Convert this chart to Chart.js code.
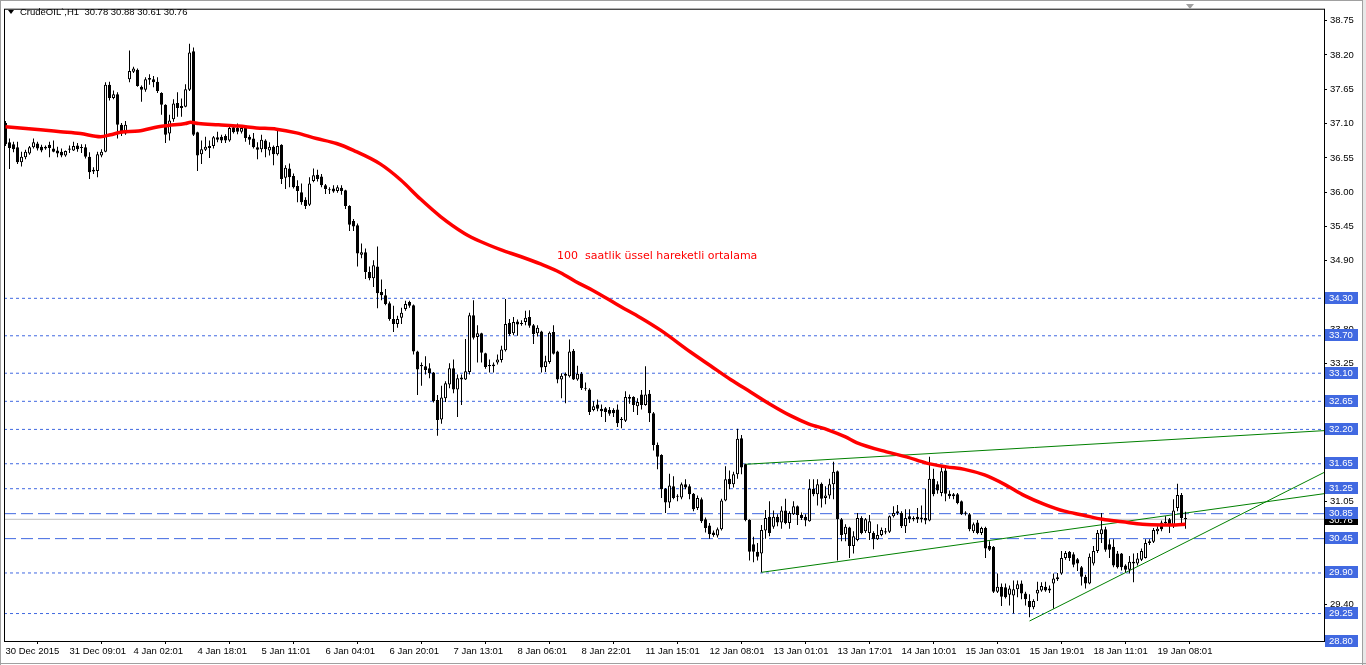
<!DOCTYPE html>
<html><head><meta charset="utf-8">
<script src="https://cdn.jsdelivr.net/npm/chart.js@4.4.1/dist/chart.umd.min.js"></script>
<style>html,body{margin:0;padding:0;background:#fff;overflow:hidden}canvas{display:block}</style>
</head><body>
<canvas id="c" width="1366" height="665"></canvas>
<script>
const symbolText = "CrudeOIL`,H1";
const opens = [
37.11,36.80,36.77,36.72,36.48,36.56,36.62,36.72,36.78,36.73,
36.73,36.76,36.70,36.67,36.65,36.59,36.68,36.67,36.75,36.72,
36.72,36.57,36.33,36.34,36.59,36.65,37.72,37.51,37.57,37.08,
36.94,37.81,37.93,37.96,37.69,37.64,37.83,37.81,37.77,37.59,
37.40,36.94,37.17,37.43,37.38,37.37,37.64,38.26,36.96,36.61,
36.68,36.71,36.74,36.88,36.89,36.90,36.83,37.04,37.03,36.97,
37.03,36.89,36.86,36.72,36.69,36.83,36.67,36.73,36.61,36.76,
36.23,36.38,36.26,36.10,36.00,35.88,35.80,36.18,36.28,36.25,
36.11,36.04,36.06,36.02,36.07,36.03,35.78,35.54,35.47,35.00,
35.04,34.72,34.62,34.81,34.40,34.35,34.22,33.97,33.89,33.99,
34.13,34.24,34.19,33.45,33.23,33.21,33.18,33.11,32.67,32.36,
32.70,32.92,33.18,32.84,33.00,33.00,33.12,34.03,33.68,33.74,
33.42,33.23,33.21,33.27,33.31,33.47,33.91,33.74,33.93,33.89,
33.92,34.00,33.87,33.74,33.77,33.20,33.28,33.76,33.45,33.00,
33.09,33.05,33.46,33.00,33.09,32.86,32.84,32.51,32.60,32.53,
32.54,32.51,32.51,32.52,32.37,32.34,32.72,32.72,32.57,32.76,
32.59,32.77,32.46,31.95,31.79,31.25,31.03,31.29,31.13,31.11,
31.32,31.29,31.17,30.94,31.08,30.76,30.66,30.55,30.50,30.60,
31.06,31.41,31.32,31.48,32.06,31.64,30.75,30.36,30.24,30.21,
30.58,30.80,30.64,30.80,30.71,30.90,30.70,30.84,30.97,30.83,
30.80,30.73,31.25,31.16,31.33,31.10,31.14,31.32,31.53,30.76,
30.52,30.63,30.33,30.43,30.78,30.57,30.54,30.54,30.44,30.51,
30.55,30.56,30.81,30.86,30.86,30.65,30.81,30.76,30.80,30.79,
30.78,30.74,31.41,31.32,31.18,31.54,31.17,31.13,31.16,31.05,
30.85,30.84,30.57,30.71,30.54,30.62,30.33,30.32,29.60,29.68,
29.67,29.55,29.54,29.64,29.73,29.57,29.45,29.35,29.57,29.62,
29.68,29.62,29.73,29.80,29.89,30.14,30.24,30.20,30.12,29.99,
29.84,29.73,30.05,30.25,30.52,30.60,30.36,30.32,30.21,30.21,
30.02,29.95,30.05,30.05,30.11,30.14,30.38,30.40,30.57,30.71,
30.70,30.76,30.65,30.94,31.15,30.78];
const highs = [
37.14,36.86,36.81,36.81,36.65,36.68,36.74,36.86,36.81,36.76,
36.75,36.81,36.83,36.73,36.70,36.67,36.75,36.81,36.79,36.77,
36.77,36.64,36.40,36.65,36.69,37.76,37.77,37.63,37.60,37.11,
37.14,38.27,38.01,37.98,37.71,37.84,37.89,37.86,37.84,37.60,
37.41,37.24,37.49,37.60,37.50,37.73,38.38,38.32,36.97,36.83,
36.89,36.83,36.90,36.97,36.92,36.93,37.07,37.07,37.10,37.06,
37.05,36.92,36.95,36.80,36.92,36.85,36.80,36.75,37.01,36.77,
36.43,36.46,36.30,36.19,36.14,35.92,36.24,36.38,36.36,36.29,
36.13,36.08,36.11,36.11,36.11,36.04,35.79,35.57,35.50,35.18,
35.10,34.81,34.91,35.13,34.60,34.45,34.25,34.18,34.02,34.15,
34.26,34.26,34.20,33.46,33.27,33.37,33.26,33.12,32.75,32.90,
32.97,33.26,33.32,33.08,33.08,33.65,34.07,34.27,33.87,33.75,
33.43,33.32,33.27,33.40,33.54,34.29,33.97,34.00,33.96,33.95,
34.10,34.11,33.89,33.87,33.78,33.38,33.77,33.87,33.46,33.10,
33.11,33.64,33.49,33.22,33.12,32.95,32.86,32.65,32.68,32.60,
32.56,32.56,32.54,32.60,32.40,32.81,32.76,32.73,32.70,32.83,
33.21,32.83,32.48,31.99,31.80,31.26,31.49,31.45,31.16,31.35,
31.40,31.32,31.18,31.14,31.11,30.79,30.70,30.58,30.63,31.09,
31.61,31.54,31.52,32.21,32.11,31.65,30.76,30.48,30.38,30.67,
30.91,31.05,30.90,30.84,30.97,31.09,30.89,31.05,30.98,30.87,
30.84,31.40,31.40,31.40,31.35,31.29,31.41,31.68,31.54,30.78,
30.68,30.64,30.57,30.86,30.81,30.78,30.83,30.57,30.68,30.63,
30.62,30.82,30.97,30.99,30.89,30.92,30.92,30.81,30.94,30.98,
31.25,31.76,31.57,31.37,31.60,31.62,31.22,31.18,31.18,31.06,
30.89,30.86,30.71,30.75,30.64,30.64,30.41,30.33,29.89,29.73,
29.73,29.70,29.78,29.78,29.78,29.60,29.56,29.48,29.76,29.75,
29.76,29.70,29.89,29.90,30.25,30.25,30.25,30.23,30.14,30.01,
29.87,30.21,30.33,30.59,30.86,30.64,30.44,30.44,30.25,30.22,
30.04,30.17,30.21,30.22,30.29,30.44,30.44,30.62,30.65,30.74,
30.81,30.78,31.08,31.33,31.18,30.88];
const lows = [
36.74,36.37,36.64,36.45,36.41,36.53,36.60,36.70,36.67,36.64,
36.68,36.56,36.64,36.56,36.56,36.57,36.63,36.66,36.65,36.63,
36.54,36.21,36.29,36.24,36.56,36.64,37.47,37.49,36.86,36.90,
36.92,37.76,37.91,37.69,37.45,37.61,37.72,37.68,37.59,37.24,
36.79,36.83,37.13,37.21,37.21,37.36,37.62,36.90,36.34,36.45,
36.66,36.55,36.70,36.80,36.79,36.79,36.81,36.94,36.93,36.94,
36.81,36.76,36.70,36.53,36.64,36.56,36.59,36.43,36.59,36.13,
36.05,36.08,36.06,35.84,35.80,35.73,35.78,36.16,36.17,36.08,
35.97,35.97,35.99,35.99,35.96,35.73,35.38,35.38,34.81,34.94,
34.61,34.59,34.48,34.14,34.27,34.19,33.94,33.76,33.83,33.89,
34.10,34.15,33.40,32.75,32.90,33.08,33.02,32.63,32.10,32.29,
32.64,32.86,32.78,32.40,32.59,32.99,33.08,33.64,33.27,33.27,
33.17,33.11,33.11,33.24,33.27,33.45,33.70,33.71,33.70,33.86,
33.87,33.83,33.57,33.69,33.11,33.12,33.25,33.40,32.94,32.70,
32.62,33.03,32.99,32.98,32.83,32.82,32.43,32.49,32.49,32.40,
32.32,32.42,32.40,32.24,32.22,32.32,32.61,32.48,32.43,32.52,
32.58,32.32,31.86,31.56,31.10,30.86,30.94,31.08,31.05,31.08,
31.24,31.08,30.89,30.91,30.70,30.55,30.45,30.48,30.47,30.58,
31.05,31.24,31.27,31.41,31.48,30.73,30.10,30.07,30.10,29.91,
30.45,30.49,30.61,30.65,30.61,30.68,30.61,30.83,30.67,30.75,
30.65,30.72,31.13,30.98,30.95,31.00,31.09,31.08,30.10,30.41,
30.41,30.14,30.21,30.41,30.52,30.54,30.43,30.28,30.43,30.49,
30.52,30.54,30.79,30.83,30.62,30.54,30.70,30.73,30.70,30.71,
30.68,30.73,31.13,31.17,31.13,31.05,31.09,31.08,31.00,30.83,
30.82,30.57,30.54,30.52,30.51,30.14,30.25,29.58,29.58,29.37,
29.49,29.38,29.25,29.51,29.48,29.38,29.19,29.32,29.45,29.60,
29.60,29.58,29.33,29.77,29.87,30.11,30.09,29.99,29.93,29.70,
29.65,29.72,30.02,30.22,30.38,30.24,30.14,29.99,29.97,29.94,
29.91,29.89,29.75,30.02,30.09,30.13,30.35,30.38,30.52,30.57,
30.67,30.54,30.62,30.89,30.68,30.61];
const closes = [
36.77,36.71,36.69,36.48,36.57,36.65,36.72,36.80,36.70,36.67,
36.70,36.71,36.65,36.62,36.59,36.66,36.70,36.74,36.69,36.71,
36.57,36.32,36.36,36.61,36.65,37.72,37.51,37.57,37.08,36.94,
37.08,37.94,37.98,37.70,37.64,37.81,37.80,37.76,37.62,37.40,
36.92,37.15,37.42,37.35,37.35,37.65,38.24,36.92,36.59,36.69,
36.73,36.74,36.88,36.84,36.83,36.83,37.03,36.96,36.97,37.03,
36.87,36.84,36.72,36.68,36.84,36.69,36.73,36.61,36.74,36.21,
36.39,36.24,36.08,36.02,35.84,35.78,36.14,36.27,36.21,36.11,
36.05,36.03,36.01,36.08,36.02,35.78,35.48,35.45,35.02,35.04,
34.72,34.62,34.83,34.38,34.35,34.21,33.97,33.89,33.97,34.07,
34.21,34.18,33.45,33.16,33.21,33.15,33.10,32.65,32.35,32.71,
32.94,33.18,32.84,33.02,33.03,33.13,34.03,33.67,33.74,33.43,
33.20,33.21,33.24,33.32,33.48,33.89,33.73,33.92,33.88,33.90,
33.99,33.86,33.73,33.83,33.19,33.29,33.75,33.41,33.00,33.06,
33.06,33.45,33.00,33.09,32.86,32.85,32.48,32.57,32.53,32.49,
32.48,32.45,32.46,32.30,32.35,32.72,32.69,32.59,32.64,32.59,
32.76,32.46,31.95,31.76,31.24,31.03,31.30,31.10,31.12,31.32,
31.27,31.16,30.92,31.10,30.73,30.62,30.52,30.51,30.60,31.06,
31.40,31.32,31.48,32.05,31.59,30.75,30.24,30.24,30.16,30.59,
30.78,30.54,30.80,30.71,30.90,30.70,30.86,30.97,30.83,30.78,
30.74,31.25,31.16,31.32,31.09,31.14,31.32,31.52,30.76,30.51,
30.64,30.33,30.49,30.78,30.54,30.76,30.73,30.44,30.51,30.59,
30.57,30.81,30.86,30.89,30.65,30.78,30.76,30.78,30.76,30.76,
30.74,31.41,31.16,31.22,31.53,31.17,31.13,31.16,31.02,30.84,
30.87,30.60,30.68,30.54,30.62,30.29,30.27,29.60,29.68,29.52,
29.51,29.65,29.64,29.72,29.57,29.48,29.35,29.45,29.63,29.69,
29.62,29.65,29.81,29.83,30.14,30.22,30.14,30.03,30.05,29.84,
29.73,30.16,30.25,30.54,30.60,30.27,30.27,30.02,29.99,29.99,
29.95,30.08,30.08,30.13,30.25,30.38,30.41,30.59,30.61,30.60,
30.72,30.65,30.90,31.15,30.78,30.76];

// 100-period EMA (bar position, price)
const emaBars = [0,8.75,13.75,18.75,23.75,26.25,28.75,33.25,38.25,40.75,45,46.25,48.25,53.25,58.25,62.75,67.75,72.75,77.75,82.75,87,93.75,98.75,103.75,108.75,114.75,118.75,123.75,128.75,133.75,138.75,142.5,146.75,153.75,158.75,163.75,171.25,176.25,181.25,186.25,191.25,196.25,200.75,205.75,210,212.75,220.25,225.25,230.25,235.25,239.75,244.75,249.75,254.75,259.75,264.75,269.25,274.25,279.25,284.25,289.25,292.5,295];
const emaValues = [37.05,37.00,36.97,36.94,36.89,36.92,36.96,36.98,37.05,37.07,37.10,37.12,37.10,37.08,37.06,37.03,37.01,36.95,36.86,36.78,36.67,36.45,36.20,35.89,35.61,35.34,35.21,35.08,34.97,34.85,34.71,34.57,34.43,34.17,33.99,33.79,33.44,33.22,33.00,32.80,32.60,32.42,32.29,32.19,32.08,31.99,31.84,31.76,31.66,31.60,31.56,31.47,31.32,31.14,31.00,30.89,30.83,30.76,30.72,30.68,30.67,30.67,30.68];

const xTickLabels = ['30 Dec 2015','31 Dec 09:01','4 Jan 02:01','4 Jan 18:01','5 Jan 11:01','6 Jan 04:01','6 Jan 20:01','7 Jan 13:01','8 Jan 06:01','8 Jan 22:01','11 Jan 15:01','12 Jan 08:01','13 Jan 01:01','13 Jan 17:01','14 Jan 10:01','15 Jan 03:01','15 Jan 19:01','18 Jan 11:01','19 Jan 08:01'];
const xTickStep = 16;
const yTickValues = [38.75,38.20,37.65,37.10,36.55,36.00,35.45,34.90,34.35,33.80,33.25,32.70,32.15,31.60,31.05,30.50,29.95,29.40];

const levelPrices = [34.30,33.70,33.10,32.65,32.20,31.65,31.25,30.85,30.45,29.90,29.25,28.80];
const levelKinds = ['dot','dot','dot','dot','dot','dot','dot','dashdot','dashdot','dot','dot','dot'];

const trendX0 = [184.75, 189, 256];
const trendY0 = [31.64, 29.91, 29.13];
const trendX1 = [329.625, 329.625, 329.625];
const trendY1 = [32.18, 31.17, 31.51];

const annotationText = '100  saatlik üssel hareketli ortalama';

const currentPrice = closes[closes.length - 1];
const X_MIN = -0.375, X_MAX = 329.625;
const BLUE = 'rgb(65,105,225)';
const FONT = '"Liberation Sans", Arial, sans-serif';

const datasets = [];
datasets.push({
  type: 'line', label: 'EMA100',
  data: emaBars.map((b, k) => ({ x: b, y: emaValues[k] })),
  borderColor: '#ff0000', borderWidth: 3.5, pointRadius: 0, cubicInterpolationMode: 'monotone', order: 0
});
datasets.push({
  type: 'bar', label: 'body',
  data: opens.map((o, i) => ({ x: i, y: [o, closes[i]] })),
  backgroundColor: c => (closes[c.dataIndex] >= opens[c.dataIndex] ? '#ffffff' : '#000000'),
  borderColor: '#000', borderWidth: 1, borderSkipped: false, barThickness: 3,
  grouped: false, minBarLength: 1, inflateAmount: 0, order: 1
});
datasets.push({
  type: 'bar', label: 'wick',
  data: lows.map((l, i) => ({ x: i, y: [l, highs[i]] })),
  backgroundColor: '#000', borderWidth: 0, barThickness: 1,
  grouped: false, inflateAmount: 0, order: 2
});
trendX0.forEach((x0, k) => datasets.push({
  type: 'line', label: 'trend' + k,
  data: [{ x: x0, y: trendY0[k] }, { x: trendX1[k], y: trendY1[k] }],
  borderColor: '#008000', borderWidth: 1, pointRadius: 0, order: 3
}));
levelPrices.forEach((p, k) => datasets.push({
  type: 'line', label: 'level' + k,
  data: [{ x: X_MIN, y: p }, { x: X_MAX, y: p }],
  borderColor: BLUE, borderWidth: 1, pointRadius: 0,
  borderDash: levelKinds[k] === 'dashdot' ? [12, 5] : [3, 3], order: 4
}));
datasets.push({
  type: 'line', label: 'price',
  data: [{ x: X_MIN, y: currentPrice }, { x: X_MAX, y: currentPrice }],
  borderColor: '#c0c0c0', borderWidth: 1, pointRadius: 0, order: 5
});

const decor = {
  id: 'decor',
  beforeDraw(chart) {
    const { ctx, width, height } = chart;
    ctx.save(); ctx.fillStyle = '#fff'; ctx.fillRect(0, 0, width, height); ctx.restore();
  },
  afterDraw(chart) {
    const { ctx, chartArea: a, scales: { x, y } } = chart;
    ctx.save();
    ctx.strokeStyle = '#000'; ctx.lineWidth = 1;
    ctx.strokeRect(a.left + 0.5, a.top + 0.5, a.right - a.left, a.bottom - a.top);

    ctx.font = '9.5px ' + FONT; ctx.textBaseline = 'middle'; ctx.textAlign = 'left';
    const cy = Math.round(y.getPixelForValue(currentPrice) - 0.5);
    ctx.fillStyle = '#000'; ctx.fillRect(a.right + 1, cy - 6, 33, 12);
    ctx.fillStyle = '#fff'; ctx.fillText(currentPrice.toFixed(2), a.right + 5, cy + 1);
    levelPrices.forEach(p => {
      const py = Math.round(y.getPixelForValue(p) - 0.5);
      ctx.fillStyle = BLUE; ctx.fillRect(a.right + 1, py - 6, 33, 12);
      ctx.fillStyle = '#fff'; ctx.fillText(p.toFixed(2), a.right + 5, py + 0.5);
    });

    // header
    ctx.fillStyle = '#000';
    ctx.beginPath(); ctx.moveTo(8, 10); ctx.lineTo(14, 10); ctx.lineTo(11, 14); ctx.closePath(); ctx.fill();
    const n = closes.length - 1;
    ctx.font = '9.5px ' + FONT;
    ctx.fillText(symbolText + '  ' + opens[n].toFixed(2) + ' ' + highs[n].toFixed(2) + ' ' + lows[n].toFixed(2) + ' ' + closes[n].toFixed(2), 20, 12.5);

    // annotation
    ctx.fillStyle = '#ff0000';
    ctx.font = '11px "DejaVu Sans", sans-serif';
    ctx.fillText(annotationText, x.getPixelForValue(137.9), y.getPixelForValue(34.97));

    // chart shift marker
    ctx.fillStyle = '#a0a0a0';
    ctx.beginPath(); ctx.moveTo(1186, 4); ctx.lineTo(1194, 4); ctx.lineTo(1190, 9); ctx.closePath(); ctx.fill();

    // window frame
    ctx.fillStyle = '#a0a0a0';
    ctx.fillRect(0, 0, 1366, 1);
    ctx.fillRect(0, 0, 1, 665);
    ctx.fillRect(1362, 0, 1, 665);
    ctx.fillStyle = '#e8e8e8';
    ctx.fillRect(1363, 0, 3, 665);
    ctx.fillStyle = '#a0a0a0';
    ctx.fillRect(0, 663, 1366, 1);
    ctx.restore();
  }
};

new Chart(document.getElementById('c'), {
  type: 'bar',
  data: { datasets },
  options: {
    responsive: false, animation: false, events: [],
    layout: { padding: { left: 4, top: 3, right: 0, bottom: 0 } },
    plugins: { legend: { display: false }, tooltip: { enabled: false } },
    scales: {
      x: {
        type: 'linear', min: X_MIN, max: X_MAX, offset: false,
        afterBuildTicks: s => { s.ticks = xTickLabels.map((t, k) => ({ value: k * xTickStep })); },
        afterFit: s => { s.height = 24; },
        grid: { display: true, drawOnChartArea: false, drawTicks: true, tickLength: 3, color: '#000' },
        border: { display: false },
        ticks: { autoSkip: false, maxRotation: 0, minRotation: 0, align: 'start', padding: 2, color: '#000',
                 font: { family: FONT, size: 9.5 }, callback: (v, k) => xTickLabels[k] }
      },
      y: {
        type: 'linear', position: 'right', min: 28.81, max: 38.94, beginAtZero: false,
        afterBuildTicks: s => { s.ticks = yTickValues.map(v => ({ value: v })); },
        afterFit: s => { s.width = 42; },
        grid: { display: true, drawOnChartArea: false, drawTicks: true, tickLength: 3, color: '#000' },
        border: { display: false },
        ticks: { padding: 3, color: '#000', font: { family: FONT, size: 9.5 }, callback: v => Number(v).toFixed(2) }
      }
    }
  },
  plugins: [decor]
});
</script>
</body></html>
